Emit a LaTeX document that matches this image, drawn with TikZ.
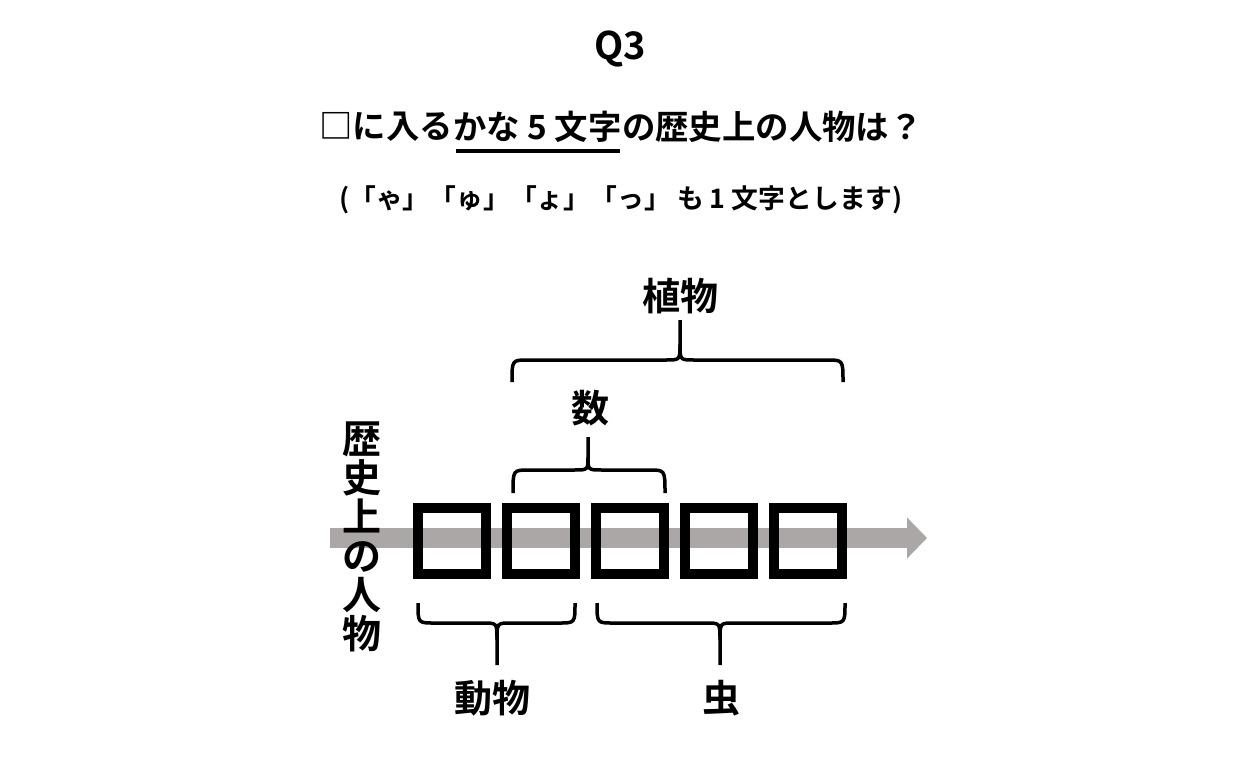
\documentclass[tikz,border=0pt]{standalone}
\usepackage{fontspec}
\setmainfont{Noto Sans CJK JP}[BoldFont={Noto Sans CJK JP Bold}]
\usepackage{xcolor}
\usetikzlibrary{arrows.meta,positioning}
\definecolor{bargray}{RGB}{171,167,166}

\begin{document}
\begin{tikzpicture}[x=1pt,y=-1pt,
  every node/.style={inner sep=0pt,font=\bfseries},
  ttl/.style={font=\fontsize{33.4}{33.4}\selectfont\bfseries},
  sub/.style={font=\fontsize{26.8}{26.8}\selectfont\bfseries},
  lbl/.style={font=\fontsize{38}{38}\selectfont\bfseries},
  vlbl/.style={font=\fontsize{39}{39}\selectfont\bfseries,align=center},
  masu/.style={draw,line width=10pt,minimum width=68pt,minimum height=66pt},
  brc/.style={line width=3.5pt},
  bar/.style={draw=bargray,line width=20pt,-{Triangle[length=20pt,width=40pt]}}]
\fill[white] (0,0) rectangle (1241,773);
\useasboundingbox (0,0) rectangle (1241,773);
% heading
\node[font=\fontsize{38}{38}\selectfont\bfseries] (q) at (620,49) {Q3};
\node[ttl,anchor=west] (t1) at (319,127) {□に入る};
\node[ttl,right=0pt of t1] (t2) {かな 5 文字};
\node[ttl,right=0pt of t2] (t3) {の歴史上の人物は？};
\draw[line width=3.5pt] ([xshift=3pt,yshift=-8pt]t2.south west) -- ([xshift=-2pt,yshift=-8pt]t2.south east);
\node[sub] (t4) at (621,200) {(「ゃ」「ゅ」「ょ」「っ」 も 1 文字とします)};
% time line and the five squares
\coordinate (s) at (330,538); \coordinate (e) at (927,538);
\draw[bar] (s) -- (e);
\node[vlbl] (jinbutsu) at (362,537) {歴\\史\\上\\の\\人\\物};
\foreach \i/\x in {1/452,2/541,3/630,4/719,5/808} \node[masu] (m\i) at (\x,541) {};
% braces
\foreach \a/\m/\b/\y/\h/\t in {418/497/575/603/20/62, 597/720/845/603/20/62, 513/588/665/493/-23/-56, 512/680/843/382/-22/-62}{
  \draw[brc] (\a,\y) .. controls (\a,\y+\h) .. ({\a+16},{\y+\h}) -- ({\m-14},{\y+\h}) .. controls (\m,\y+\h) .. ({\m},{\y+\h+0.4*(\t-\h)}) -- (\m,\y+\t);
  \draw[brc] ({\m},{\y+\h+0.4*(\t-\h)}) .. controls (\m,\y+\h) .. ({\m+14},{\y+\h}) -- ({\b-16},{\y+\h}) .. controls (\b,\y+\h) .. (\b,\y);
}
\node[lbl] (shokubutsu) at (680,296) {植物};
\node[lbl] (kazu) at (590,408) {数};
\node[lbl] (doubutsu) at (492,698) {動物};
\node[lbl] (mushi) at (721,698) {虫};
\end{tikzpicture}
\end{document}
